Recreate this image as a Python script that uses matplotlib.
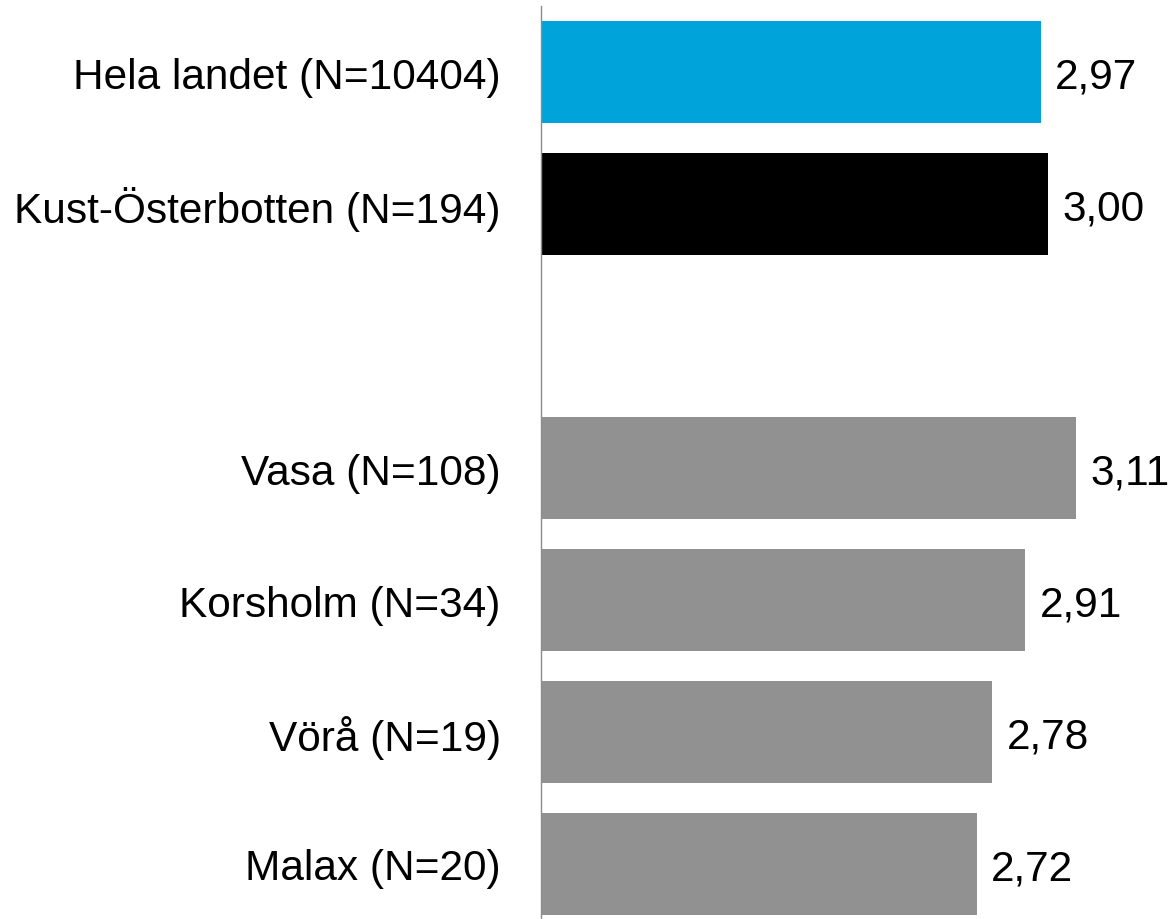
import numpy as np
import matplotlib
matplotlib.use('Agg')
import matplotlib.pyplot as plt

labels = ['Hela landet (N=10404)', 'Kust-Österbotten (N=194)', '',
          'Vasa (N=108)', 'Korsholm (N=34)', 'Vörå (N=19)', 'Malax (N=20)']
values = [2.97, 3.00, np.nan, 3.11, 2.91, 2.78, 2.72]
colors = ['#00a3da', '#000000', '#ffffff',
          '#919191', '#919191', '#919191', '#919191']

plt.rcParams['font.family'] = ['Liberation Sans', 'DejaVu Sans']

fig = plt.figure(figsize=(11.69, 9.2), dpi=100)
ax = fig.add_axes([541 / 1169, 1 - 931 / 920, 1 - 541 / 1169, 924 / 920])

y = np.arange(len(labels))
xmin = 1.0
vals = np.array(values)
ax.barh(y, np.nan_to_num(vals - xmin), left=xmin, height=0.773, color=colors)

# värdeetiketter till höger om staplarna
for yi, v in zip(y, values):
    if np.isnan(v):
        continue
    ax.annotate(f'{v:.2f}'.replace('.', ','), xy=(v, yi), xytext=(14, 0),
                textcoords='offset pixels', va='center_baseline', ha='left',
                fontsize=30.5, color='black')

ax.set_xlim(xmin, 3.476)
ax.set_ylim(len(labels) - 0.5, -0.5)
ax.set_yticks(y)
ax.set_yticklabels(labels, fontsize=30.5)
ax.tick_params(axis='y', length=0, pad=29)
ax.set_xticks([])
for s in ['top', 'right', 'bottom']:
    ax.spines[s].set_visible(False)
ax.spines['left'].set_color('#8c8c8c')
ax.spines['left'].set_linewidth(1)

fig.savefig('out.png', dpi=100)
